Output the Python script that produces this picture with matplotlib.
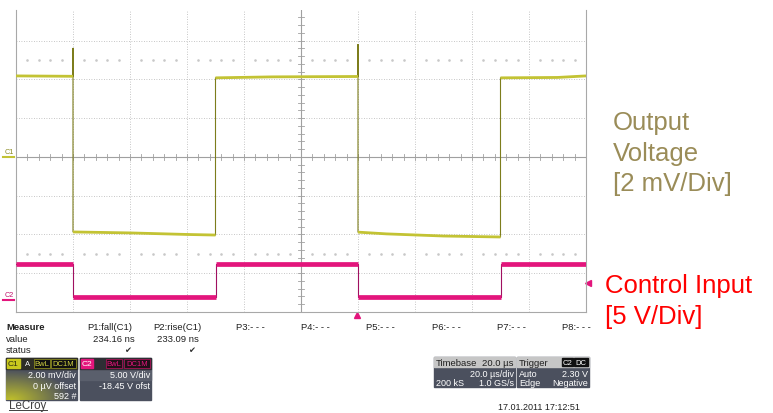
import numpy as np
import matplotlib.pyplot as plt
from matplotlib.patches import Rectangle

plt.rcParams['font.family'] = ['Liberation Sans', 'DejaVu Sans']

# time in microseconds (20 us/div), screen is -100..100 us
edge_times = [-80, -30, 20, 70]          # fall, rise, fall, rise

# output voltage (C1, mV) - flat segments
out_seg_t = [[-100, -80], [-80, -60, -40, -30], [-30, -10, 20],
             [20, 30, 50, 70], [70, 90, 100]]
out_seg_mv = [[4.18, 4.16], [-3.87, -3.92, -4.0, -4.03], [4.08, 4.13, 4.15],
              [-3.88, -3.97, -4.08, -4.13], [4.08, 4.10, 4.18]]
out_spike_mv = [5.6, None, 5.8, None]    # overshoot at falling edges

# control input (C2, V)
ctl_seg_t = [[-100, -80], [-80, -30], [-30, 20], [20, 70], [70, 100]]
ctl_seg_v = [[4.65, 4.65], [0.35, 0.35], [4.65, 4.65], [0.35, 0.35], [4.65, 4.65]]

c1_scale, c1_offset = 2.0, 0.0      # mV/div, mV
c2_scale, c2_offset = 5.0, -18.45   # V/div, V
trig_level = 2.30

meas_names = ['P1:fall(C1)', 'P2:rise(C1)', 'P3:- - -', 'P4:- - -',
              'P5:- - -', 'P6:- - -', 'P7:- - -', 'P8:- - -']
meas_values = ['234.16 ns', '233.09 ns']

W, H = 773, 414
fig = plt.figure(figsize=(W / 100, H / 100), dpi=100)
bg = fig.add_axes([0, 0, 1, 1])
bg.set_xlim(0, W)
bg.set_ylim(H, 0)
bg.axis('off')

ax = fig.add_axes([16 / W, (H - 313) / H, 570 / W, 302 / H])
ax.set_facecolor('none')
ax.set_xlim(-100, 100)
ax.set_ylim(-4, 3.79)
ax.set_xticks([])
ax.set_yticks([])
for s in ['left', 'right', 'bottom']:
    ax.spines[s].set_color('#a8a8a8')
    ax.spines[s].set_linewidth(0.8)
ax.spines['top'].set_visible(False)

# graticule
for k in range(-4, 5):
    if k == 0:
        ax.axvline(0, color='#a0a0a0', lw=0.8, zorder=1)
    else:
        ax.axvline(20 * k, color='#b4b4b4', lw=0.6, ls=(0, (1, 2)), zorder=1)
for k in range(-3, 4):
    if k == 0:
        ax.axhline(0, color='#a0a0a0', lw=0.8, zorder=1)
    else:
        ax.axhline(k, color='#b4b4b4', lw=0.6, ls=(0, (1, 2)), zorder=1)
for v in np.arange(-4, 3.8, 0.2):
    ax.plot([-1.05, 1.05], [v, v], color='#a0a0a0', lw=0.6, zorder=1)
for t in np.arange(-100, 100.1, 4):
    ax.plot([t, t], [-0.077, 0.077], color='#a0a0a0', lw=0.6, zorder=1)
dot_t = [t for t in np.arange(-96, 100, 4) if t % 20 != 0]
for yy in [2.5, -2.5]:
    ax.plot(dot_t, [yy] * len(dot_t), ls='none', marker='s', ms=0.8,
            color='#c8c8c8', zorder=1)

# traces
def to_div(vals, scale, offset):
    return (np.array(vals) + offset) / scale

# C2 control input
ctl_t, ctl_y = [], []
for t, v in zip(ctl_seg_t, ctl_seg_v):
    ctl_t += t
    ctl_y += list(to_div(v, c2_scale, c2_offset))
ax.plot(ctl_t, ctl_y, color='#a01060', lw=0.8, zorder=3)
for t, v in zip(ctl_seg_t, ctl_seg_v):
    ax.plot(t, to_div(v, c2_scale, c2_offset), color='#e3157c', lw=3.4,
            solid_capstyle='butt', zorder=3)

# C1 output voltage
out_t, out_y = [], []
for i, (t, v) in enumerate(zip(out_seg_t, out_seg_mv)):
    out_t += t
    out_y += list(to_div(v, c1_scale, c1_offset))
    if i < len(out_spike_mv) and out_spike_mv[i] is not None:
        out_t.append(edge_times[i])
        out_y.append(out_spike_mv[i] / c1_scale)
ax.plot(out_t, out_y, color='#7d7d1c', lw=0.8, zorder=4)
for t, v in zip(out_seg_t, out_seg_mv):
    ax.plot(t, to_div(v, c1_scale, c1_offset), color='#c3c334', lw=2.0,
            solid_capstyle='butt', zorder=4)

# channel markers on the left and trigger markers
bg.text(5, 153, 'C1', fontsize=5.2, color='#8a8a20', va='center')
bg.plot([3, 14], [158, 158], color='#c3c334', lw=1.5)
bg.text(5, 296, 'C2', fontsize=5.2, color='#c0106a', va='center')
bg.plot([3, 14], [301, 301], color='#e3157c', lw=1.5)
bg.plot([588], [284], marker='<', ms=4, color='#e3157c', ls='none')
bg.plot([357], [316], marker='^', ms=4, color='#e3157c', ls='none')

# annotations on the right
for txt, yb in zip(['Output', 'Voltage', '[2 mV/Div]'], [130, 161, 191]):
    bg.text(613, yb, txt, fontsize=18.5, color='#9a8c58', va='baseline')
for txt, yb in zip(['Control Input', '[5 V/Div]'], [293, 324]):
    bg.text(605, yb, txt, fontsize=18.5, color='#ff0000', va='baseline')

# measurement table
fs = 6.8
bg.text(6, 330, 'Measure', fontsize=fs, fontweight='bold', color='#202020', va='baseline')
bg.text(6, 342, 'value', fontsize=fs, color='#202020', va='baseline')
bg.text(6, 353, 'status', fontsize=fs, color='#202020', va='baseline')
name_x = [87, 153, 236, 301, 366, 432, 497, 562]
for name, x in zip(meas_names, name_x):
    bg.text(x, 330, name, fontsize=fs, color='#202020', va='baseline')
for val, x in zip(meas_values, [135, 199]):
    bg.text(x, 342, val, fontsize=fs, color='#202020', va='baseline', ha='right')
    bg.text(x - 7, 353, '\u2714', fontsize=6, color='#303030', va='baseline',
            ha='center', family='DejaVu Sans')

# channel descriptor boxes
body = '#4b505e'
bg.add_patch(Rectangle((6, 359), 71, 42, color=body, zorder=1))
yy, xx = np.mgrid[0:42, 0:71]
dist = np.hypot((xx - 5) / 60.0, (41 - yy) / 30.0)
grad = np.zeros((42, 71, 4))
grad[..., 0], grad[..., 1], grad[..., 2] = 0.80, 0.80, 0.15
grad[..., 3] = np.clip(1.0 - dist, 0, 1) * 0.9
bg.imshow(grad, extent=(6, 77, 401, 359), aspect='auto', zorder=2)
bg.add_patch(Rectangle((6, 359), 71, 11, color='#2e2e26', zorder=3))
bg.add_patch(Rectangle((7, 360), 13, 9, color='#c8c81e', zorder=4))
bg.text(13.5, 364.5, 'C1', fontsize=6, color='#2e2e10', ha='center', va='center', zorder=5)
bg.text(28, 364.5, 'A', fontsize=5.5, color='white', ha='center', va='center', zorder=5)
for lab, x0, w in [('BwL', 34, 16), ('DC1M', 51, 25)]:
    bg.add_patch(Rectangle((x0, 360), w, 9, facecolor='#101010', edgecolor='#a0a020',
                           lw=0.5, zorder=4))
    bg.text(x0 + w / 2, 364.5, lab, fontsize=5.5, color='#d0d040', ha='center',
            va='center', zorder=5)
for txt, yb in zip(['2.00 mV/div', '0 \u00b5V offset', '592 #'], [378, 389, 399]):
    bg.text(76, yb, txt, fontsize=6.5, color='white', ha='right', va='baseline', zorder=5)

bg.add_patch(Rectangle((80, 359), 71, 42, color=body, zorder=1))
bg.add_patch(Rectangle((80, 370), 71, 11, color='#5a5f6c', zorder=2))
bg.add_patch(Rectangle((80, 359), 71, 11, color='#2e2e34', zorder=3))
bg.add_patch(Rectangle((81, 360), 12, 9, color='#e3157c', zorder=4))
bg.text(87, 364.5, 'C2', fontsize=6, color='white', ha='center', va='center', zorder=5)
for lab, x0, w in [('BwL', 106, 16), ('DC1M', 124, 26)]:
    bg.add_patch(Rectangle((x0, 360), w, 9, facecolor='#201018', edgecolor='#c01060',
                           lw=0.5, zorder=4))
    bg.text(x0 + w / 2, 364.5, lab, fontsize=5.5, color='#e3157c', ha='center',
            va='center', zorder=5)
for txt, yb in zip(['5.00 V/div', '-18.45 V ofst'], [378, 389]):
    bg.text(150, yb, txt, fontsize=6.5, color='white', ha='right', va='baseline', zorder=5)

# timebase / trigger boxes
for x0 in [434, 517]:
    bg.add_patch(Rectangle((x0, 358), 81 if x0 == 434 else 72, 30, color=body, zorder=1))
    bg.add_patch(Rectangle((x0, 358), 81 if x0 == 434 else 72, 10, color='#c6c6c6', zorder=2))
bg.text(436, 366, 'Timebase', fontsize=6.8, color='#202020', va='baseline', zorder=5)
bg.text(514, 366, '20.0 \u00b5s', fontsize=6.8, color='#202020', va='baseline', ha='right', zorder=5)
bg.text(514, 377, '20.0 \u00b5s/div', fontsize=6.5, color='white', va='baseline', ha='right', zorder=5)
bg.text(436, 386, '200 kS', fontsize=6.5, color='white', va='baseline', zorder=5)
bg.text(514, 386, '1.0 GS/s', fontsize=6.5, color='white', va='baseline', ha='right', zorder=5)
bg.text(519, 366, 'Trigger', fontsize=6.8, color='#202020', va='baseline', zorder=5)
for lab, x0, w in [('C2', 562, 11), ('DC', 574, 14)]:
    bg.add_patch(Rectangle((x0, 359), w, 8, color='#101010', zorder=4))
    bg.text(x0 + w / 2, 363.2, lab, fontsize=5.5, color='white', ha='center', va='center', zorder=5)
bg.text(519, 377, 'Auto', fontsize=6.5, color='white', va='baseline', zorder=5)
bg.text(588, 377, '%.2f V' % trig_level, fontsize=6.5, color='white', va='baseline', ha='right', zorder=5)
bg.text(519, 386, 'Edge', fontsize=6.5, color='white', va='baseline', zorder=5)
bg.text(588, 386, 'Negative', fontsize=6.5, color='white', va='baseline', ha='right', zorder=5)

# footer
bg.text(9, 409, 'LeCroy', fontsize=8.3, color='#404040', va='baseline')
bg.plot([9, 47], [411, 411], color='#404040', lw=0.7)
bg.text(539, 410, '17.01.2011 17:12:51', fontsize=6.5, color='#202020', va='baseline', ha='center')

bg.set_xlim(0, W)
bg.set_ylim(H, 0)
fig.savefig('out.png', dpi=100)
